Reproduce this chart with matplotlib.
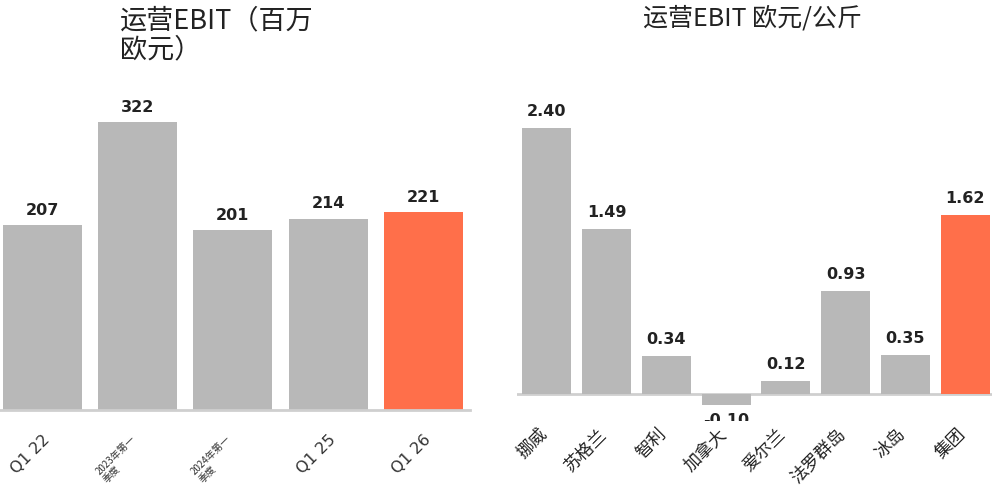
import matplotlib
matplotlib.use('Agg')
import matplotlib.pyplot as plt
import matplotlib.transforms as mtransforms

plt.rcParams['font.family'] = ['Noto Sans CJK SC', 'DejaVu Sans']
LATIN = ['DejaVu Sans', 'Noto Sans CJK SC']

# left panel: operating EBIT (EUR million)
q_labels = ['Q1 22', '2023年第一\n季度', '2024年第一\n季度', 'Q1 25', 'Q1 26']
q_values = [207, 322, 201, 214, 221]
q_small = [False, True, True, False, False]

# right panel: operating EBIT EUR/kg
regions = ['挪威', '苏格兰', '智利', '加拿大', '爱尔兰', '法罗群岛', '冰岛', '集团']
ebit_kg = [2.40, 1.49, 0.34, -0.10, 0.12, 0.93, 0.35, 1.62]

GRAY = '#b8b8b8'
ORANGE = '#ff6f4a'
AXC = '#cfcfcf'

W, H = 994, 495
fig = plt.figure(figsize=(W / 100, H / 100), dpi=100)

def px_axes(x0, x1, ytop_px, ybot_px):
    # rect in pixel coords measured from top
    return fig.add_axes([x0 / W, (H - ybot_px) / H, (x1 - x0) / W, (ybot_px - ytop_px) / H])

# ---------------- left
ax1 = px_axes(0, 470, 97, 410)
cols1 = [GRAY] * 4 + [ORANGE]
ax1.bar(range(5), q_values, width=0.83, color=cols1)
ax1.set_xlim(-0.446, 4.49)
ax1.set_ylim(0, 350)
for i, v in enumerate(q_values):
    ax1.text(i, v + 8, str(v), ha='center', va='bottom', fontsize=11.5, fontweight='bold',
             color='#222222', family=LATIN)
bt1 = mtransforms.blended_transform_factory(ax1.transData, ax1.transAxes)
for i, (lab, small) in enumerate(zip(q_labels, q_small)):
    if small:
        ax1.text(i - 0.08, -0.075, lab, transform=bt1, rotation=45, rotation_mode='anchor',
                 ha='right', va='top', multialignment='left', fontsize=7,
                 linespacing=1.1, color='#333333', clip_on=False)
    else:
        ax1.text(i + 0.0, -0.07, lab, transform=bt1, rotation=45, rotation_mode='anchor',
                 ha='right', va='top', fontsize=11.5, family=LATIN, color='#333333', clip_on=False)
ax1.set_xticks([])
ax1.set_yticks([])
for s in ['top', 'right', 'left']:
    ax1.spines[s].set_visible(False)
ax1.spines['bottom'].set_color(AXC)
ax1.spines['bottom'].set_linewidth(2)
fig.text(120 / W, 1 - 7 / H, '运营EBIT（百万\n欧元）', ha='left', va='top', fontsize=19.5,
         color='#222222', linespacing=1.12)

# ---------------- right
ax2 = px_axes(517, 992, 84, 421)
cols2 = [GRAY] * 7 + [ORANGE]
ax2.bar(range(8), ebit_kg, width=0.82, color=cols2)
ax2.set_xlim(-0.5, 7.45)
ax2.set_ylim(-0.245, 2.8)
for i, v in enumerate(ebit_kg):
    if v >= 0:
        ax2.text(i, v + 0.08, '%.2f' % v, ha='center', va='bottom', fontsize=11.5,
                 fontweight='bold', color='#222222', clip_on=False, family=LATIN)
    else:
        ax2.text(i, v - 0.07, '%.2f' % v, ha='center', va='top', fontsize=11.5,
                 fontweight='bold', color='#222222', clip_on=True, family=LATIN)
bt2 = mtransforms.blended_transform_factory(ax2.transData, ax2.transAxes)
for i, lab in enumerate(regions):
    ax2.text(i - 0.15, -0.012, lab, transform=bt2, rotation=45, rotation_mode='anchor',
             ha='right', va='top', fontsize=12.5, color='#222222', clip_on=False)
ax2.set_xticks([])
ax2.set_yticks([])
for s in ['top', 'right', 'left', 'bottom']:
    ax2.spines[s].set_visible(False)
ax2.axhline(0, color=AXC, linewidth=2, zorder=0)
fig.text(643 / W, 1 - 5 / H, '运营EBIT 欧元/公斤', ha='left', va='top', fontsize=18, color='#222222')

fig.savefig('out.png', dpi=100)
